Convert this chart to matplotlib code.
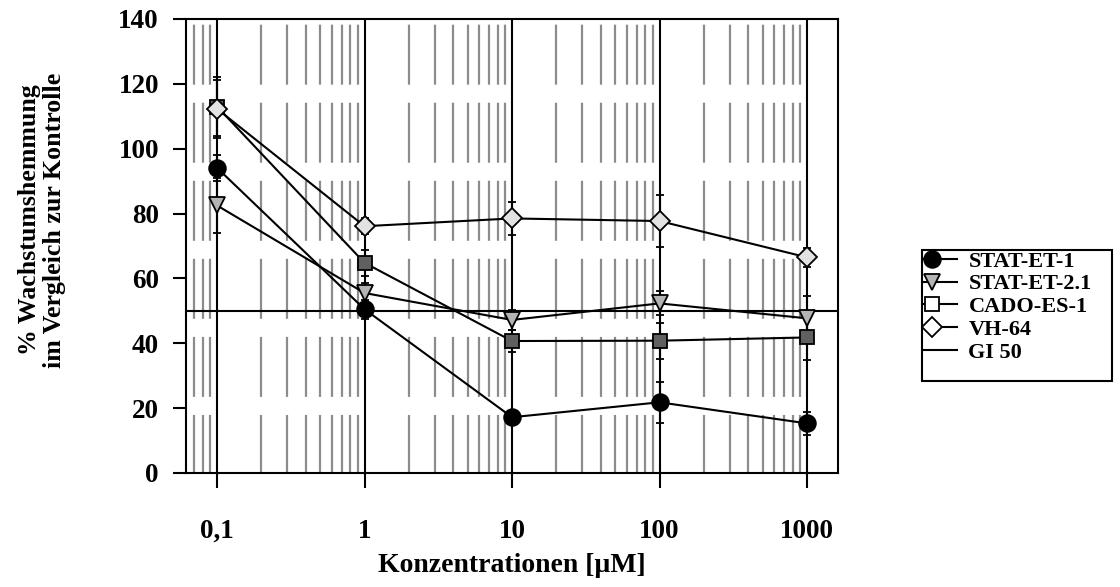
import numpy as np
import matplotlib
matplotlib.use("Agg")
import matplotlib.pyplot as plt
from matplotlib.lines import Line2D
from matplotlib.patches import Rectangle
from matplotlib.legend_handler import HandlerLine2DCompound
from matplotlib.ticker import FixedLocator, NullFormatter

plt.rcParams['font.family'] = ['Liberation Serif', 'DejaVu Serif']
plt.rcParams['font.weight'] = 'bold'
plt.rcParams['lines.scale_dashes'] = False

# Concentrations (µM) and tick labels
concentrations = [0.1, 1, 10, 100, 1000]
tick_labels = ["0,1", "1", "10", "100", "1000"]

# Growth inhibition (%) with standard deviations
stat_et_1 = [94.1, 50.5, 17.2, 21.8, 15.3]
stat_et_1_err = [4.0, 3.0, 1.5, 6.3, 3.5]
stat_et_21 = [82.5, 55.5, 47.2, 52.3, 47.7]
stat_et_21_err = [8.5, 3.0, 3.0, 3.7, 7.0]
cado_es_1 = [113.0, 64.8, 40.7, 40.8, 41.8]
cado_es_1_err = [9.0, 4.0, 3.4, 5.5, 7.0]
vh_64 = [112.3, 76.1, 78.5, 77.7, 66.5]
vh_64_err = [9.0, 2.5, 5.0, 8.0, 3.0]
gi50 = 50

series = [
    ("STAT-ET-1", stat_et_1, stat_et_1_err, "o", 12, "black", "black"),
    ("STAT-ET-2.1", stat_et_21, stat_et_21_err, "v", 12, "#b4b4b4", "#b4b4b4"),
    ("CADO-ES-1", cado_es_1, cado_es_1_err, "s", 10, "#606060", "white"),
    ("VH-64", vh_64, vh_64_err, "D", 10, "#e2e2e2", "white"),
]

W, H = 1120, 587
fig = plt.figure(figsize=(W / 100, H / 100), dpi=100)
ax = fig.add_axes([186 / W, 1 - 473 / H, (838 - 186) / W, (473 - 19) / H])

ax.set_xscale("log")
ax.set_xlim(0.0616, 1622)
ax.set_ylim(0, 140)

ax.xaxis.set_major_locator(FixedLocator(concentrations))
ax.set_xticklabels(tick_labels)
minor = [m * 10.0 ** e for e in range(-2, 4) for m in range(2, 10)]
ax.xaxis.set_minor_locator(FixedLocator(minor))
ax.xaxis.set_minor_formatter(NullFormatter())
ax.set_yticks(np.arange(0, 141, 20))

ax.grid(which="minor", axis="x", color="#8c8c8c", lw=1.6,
        linestyle=(1.4, (43.2, 13.0)), zorder=0)
ax.grid(which="major", axis="x", color="black", lw=1.5, zorder=1)
ax.set_axisbelow(True)

ax.tick_params(axis="x", which="major", direction="out", length=11, width=1.5,
               pad=22, labelsize=19.5)
ax.tick_params(axis="x", which="minor", length=0)
ax.tick_params(axis="y", direction="out", length=9.5, width=1.5, pad=10,
               labelsize=19.5)
for s in ax.spines.values():
    s.set_linewidth(1.5)

ax.axhline(gi50, color="black", lw=1.5, zorder=2)

for name, vals, errs, mk, ms, fc, _ in series:
    ax.errorbar(concentrations, vals, yerr=errs, color="black", lw=1.5,
                marker=mk, markersize=ms, markerfacecolor=fc,
                markeredgecolor="black", markeredgewidth=1.3,
                ecolor="black", elinewidth=1.5, capsize=3, capthick=1.5,
                zorder=3)


class MarkerLeftHandler(HandlerLine2DCompound):
    """Line handle with the marker placed near its left end."""
    def get_xdata(self, legend, xdescent, ydescent, width, height, fontsize):
        xdata = np.array([-xdescent, -xdescent + width])
        return xdata, np.array([-xdescent + 0.25 * width])


handles = [Line2D([], [], color="black", lw=1.5, marker=mk, markersize=ms,
                  markerfacecolor=lfc, markeredgecolor="black", markeredgewidth=1.3)
           for _, _, _, mk, ms, _, lfc in series]
handles.append(Line2D([], [], color="black", lw=1.5))
labels = [s[0] for s in series] + ["GI 50"]

# legend box
fig.add_artist(Rectangle((922 / W, 1 - 381 / H), (1112 - 922) / W, (381 - 250) / H,
                         transform=fig.transFigure, facecolor="white",
                         edgecolor="black", lw=1.5, zorder=5))
leg = fig.legend(handles, labels, loc="upper left",
                 bbox_to_anchor=(924 / W, 1 - 251 / H), borderaxespad=0,
                 frameon=False, prop={"size": 16, "weight": "bold"},
                 handlelength=1.5, handletextpad=0.5, labelspacing=0.1,
                 borderpad=0.0,
                 handler_map={Line2D: MarkerLeftHandler(numpoints=1)})
leg.set_zorder(6)

fig.text(512 / W, 1 - 566 / H, "Konzentrationen [µM]", ha="center",
         va="center", fontsize=20, fontweight="bold")
fig.text(42 / W, 1 - 220 / H, "% Wachstumshemmung\nim Vergleich zur Kontrolle",
         ha="center", va="center", rotation=90, fontsize=18.6, fontweight="bold",
         linespacing=1.1)

fig.savefig("out.png", dpi=100)
